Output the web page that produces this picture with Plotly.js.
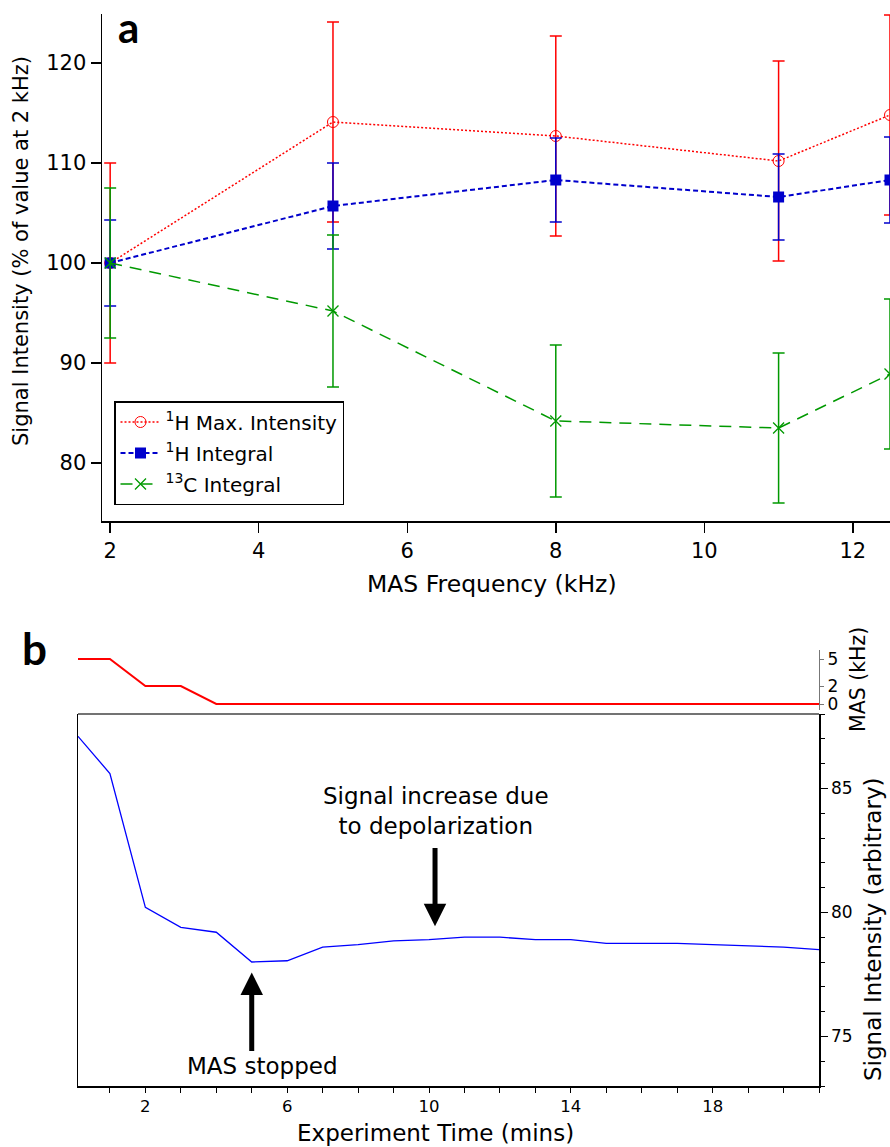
<!DOCTYPE html>
<html><head><meta charset="utf-8">
<script src="https://cdn.plot.ly/plotly-3.0.1.min.js"></script>
<style>html,body{margin:0;padding:0;background:#fff}</style>
</head><body><div id="chart" style="width:890px;height:1147px"></div>
<script>
// Panel a data
const masFreq = [2, 5, 8, 11, 12.5];
const hMax = [100, 114.1, 112.7, 110.2, 114.8];
const hMaxErr = [10, 10, 10, 10, 10];
const hInt = [100, 105.7, 108.3, 106.6, 108.3];
const hIntErr = [4.3, 4.3, 4.2, 4.3, 4.3];
const cInt = [100, 95.2, 84.2, 83.5, 88.9];
const cIntErr = [7.5, 7.6, 7.6, 7.5, 7.5];
const seriesNames = ['<sup>1</sup>H Max. Intensity', '<sup>1</sup>H Integral', '<sup>13</sup>C Integral'];

// Panel b data
const timeMin = [0.1, 1, 2, 3, 4, 5, 6, 7, 8, 9, 10, 11, 12, 13, 14, 15, 16, 17, 18, 19, 20, 21];
const signal = [87.1, 85.6, 80.2, 79.4, 79.2, 78.0, 78.05, 78.6, 78.7, 78.85, 78.9, 79.0, 79.0, 78.9, 78.9, 78.75, 78.75, 78.75, 78.7, 78.65, 78.6, 78.5];
const masTime = [0.1, 1, 2, 3, 4, 21];
const masKHz = [5, 5, 2, 2, 0, 0];

const F = 'DejaVu Sans, sans-serif';
const W = 890, H = 1147;
const px = v => v / W;
const py = v => 1 - v / H;

const traces = [
  {x: masFreq, y: hMax, name: seriesNames[0], legendgroup: 'g1', type: 'scatter', mode: 'lines+markers', xaxis: 'x', yaxis: 'y',
   line: {color: '#ff0000', width: 1.5, dash: '2px,2px'},
   marker: {symbol: 'circle-open', size: 11, color: '#ff0000', line: {width: 1, color: '#ff0000'}},
   error_y: {type: 'data', array: hMaxErr, visible: true, color: '#ff0000', thickness: 1.5, width: 6}},
  {x: masFreq, y: hInt, name: seriesNames[1], legendgroup: 'g2', type: 'scatter', mode: 'lines+markers', xaxis: 'x', yaxis: 'y',
   line: {color: '#0000cc', width: 2, dash: '5px,3px'},
   marker: {symbol: 'square', size: 11, color: '#0000cc'},
   error_y: {type: 'data', array: hIntErr, visible: true, color: '#0000cc', thickness: 1.5, width: 6}},
  {x: masFreq, y: cInt, name: seriesNames[2], legendgroup: 'g3', type: 'scatter', mode: 'lines+markers', xaxis: 'x', yaxis: 'y',
   line: {color: '#009900', width: 1.5, dash: '12px,8px'},
   marker: {symbol: 'x-thin-open', size: 11, color: '#009900', line: {width: 1.3, color: '#009900'}},
   error_y: {type: 'data', array: cIntErr, visible: true, color: '#009900', thickness: 1.5, width: 6}},
  {x: timeMin, y: signal, type: 'scatter', mode: 'lines', xaxis: 'x2', yaxis: 'y2', showlegend: false,
   line: {color: '#0000ff', width: 1.3}},
  {x: masTime, y: masKHz, type: 'scatter', mode: 'lines', xaxis: 'x2', yaxis: 'y3', showlegend: false,
   line: {color: '#ff0000', width: 2}}
];

const axBase = {showline: true, linecolor: '#000', linewidth: 1.5, ticks: 'outside', tickcolor: '#000',
  showgrid: false, zeroline: false};

function txt(x, y, text, size, extra) {
  return Object.assign({xref: 'paper', yref: 'paper', x: px(x), y: py(y), text: text, showarrow: false,
    xanchor: 'center', yanchor: 'middle', font: {size: size, family: F, color: '#000'}}, extra || {});
}

const layout = {
  width: W, height: H,
  margin: {l: 0, r: 0, t: 0, b: 0},
  paper_bgcolor: '#fff', plot_bgcolor: 'rgba(0,0,0,0)',
  font: {family: F, color: '#000'},
  showlegend: true,
  legend: {x: px(114), y: py(401), xanchor: 'left', yanchor: 'top', bgcolor: '#fff',
    bordercolor: '#000', borderwidth: 1.5, font: {size: 20, family: F}, itemwidth: 40, tracegroupgap: 2},
  xaxis: Object.assign({}, axBase, {domain: [px(102), 1], range: [1.89, 12.5], anchor: 'y',
    tickvals: [2, 4, 6, 8, 10, 12], ticklen: 10, tickwidth: 1.5, tickfont: {size: 21}}),
  yaxis: Object.assign({}, axBase, {domain: [py(521), py(14)], range: [74.2, 124.9], anchor: 'x',
    tickvals: [80, 90, 100, 110, 120], ticklen: 10, tickwidth: 1.5, tickfont: {size: 21}}),
  xaxis2: Object.assign({}, axBase, {domain: [px(78), px(819)], range: [0.1, 21], anchor: 'y2', mirror: false,
    tickmode: 'linear', tick0: 2, dtick: 4, ticklen: 5, tickwidth: 1, tickfont: {size: 16.5},
    minor: {dtick: 1, tick0: 0, ticks: 'outside', ticklen: 5, tickwidth: 1, tickcolor: '#000', showgrid: false}}),
  yaxis2: Object.assign({}, axBase, {domain: [py(1086), py(714)], range: [73, 88], anchor: 'x2', side: 'right', mirror: true,
    tickmode: 'linear', tick0: 75, dtick: 5, ticklen: 7, tickwidth: 1, tickfont: {size: 17},
    minor: {dtick: 1, tick0: 0, ticks: 'outside', ticklen: 4, tickwidth: 1, tickcolor: '#000', showgrid: false}}),
  yaxis3: Object.assign({}, axBase, {domain: [py(710), py(650)], range: [-0.667, 6], anchor: 'x2', side: 'right',
    linecolor: '#777', linewidth: 1, tickcolor: '#777', tickvals: [0, 2, 5], ticklen: 4, tickwidth: 1,
    tickfont: {size: 17}}),
  shapes: [
    {type: 'line', xref: 'paper', yref: 'paper', x0: px(78), x1: px(819), y0: py(714), y1: py(714),
     line: {color: '#444', width: 1.5}}
  ],
  annotations: [
    // axis titles
    txt(21, 251, 'Signal Intensity (% of value at 2 kHz)', 21, {textangle: -90}),
    txt(492, 584, 'MAS Frequency (kHz)', 23.5),
    txt(435, 1133, 'Experiment Time (mins)', 23),
    txt(873, 929, 'Signal Intensity (arbitrary)', 23, {textangle: -90}),
    txt(858, 680, 'MAS (kHz)', 20.5, {textangle: -90}),
    // panel labels
    txt(128, 27, '<b>a</b>', 42, {font: {family: 'Lato, sans-serif', size: 42, color: '#000'}}),
    txt(34, 648, '<b>b</b>', 44, {font: {family: 'Lato, sans-serif', size: 44, color: '#000'}}),
    // in-plot notes
    {xref: 'x2', yref: 'y2', x: 10.2, y: 84.07, text: 'Signal increase due<br>to depolarization', showarrow: false,
     xanchor: 'center', yanchor: 'middle', font: {size: 23}},
    {xref: 'x2', yref: 'y2', x: 5.3, y: 73.8, text: 'MAS stopped', showarrow: false,
     xanchor: 'center', yanchor: 'middle', font: {size: 23}},
    {xref: 'x2', yref: 'y2', x: 10.17, y: 79.44, axref: 'x2', ayref: 'y2', ax: 10.17, ay: 82.66, text: '',
     showarrow: true, arrowhead: 2, arrowsize: 0.9, arrowwidth: 5, arrowcolor: '#000'},
    {xref: 'x2', yref: 'y2', x: 5.0, y: 77.58, axref: 'x2', ayref: 'y2', ax: 5.0, ay: 74.35, text: '',
     showarrow: true, arrowhead: 2, arrowsize: 0.9, arrowwidth: 5, arrowcolor: '#000'}
  ]
};

Plotly.newPlot('chart', traces, layout, {displayModeBar: false, staticPlot: true});
</script>
</body></html>
